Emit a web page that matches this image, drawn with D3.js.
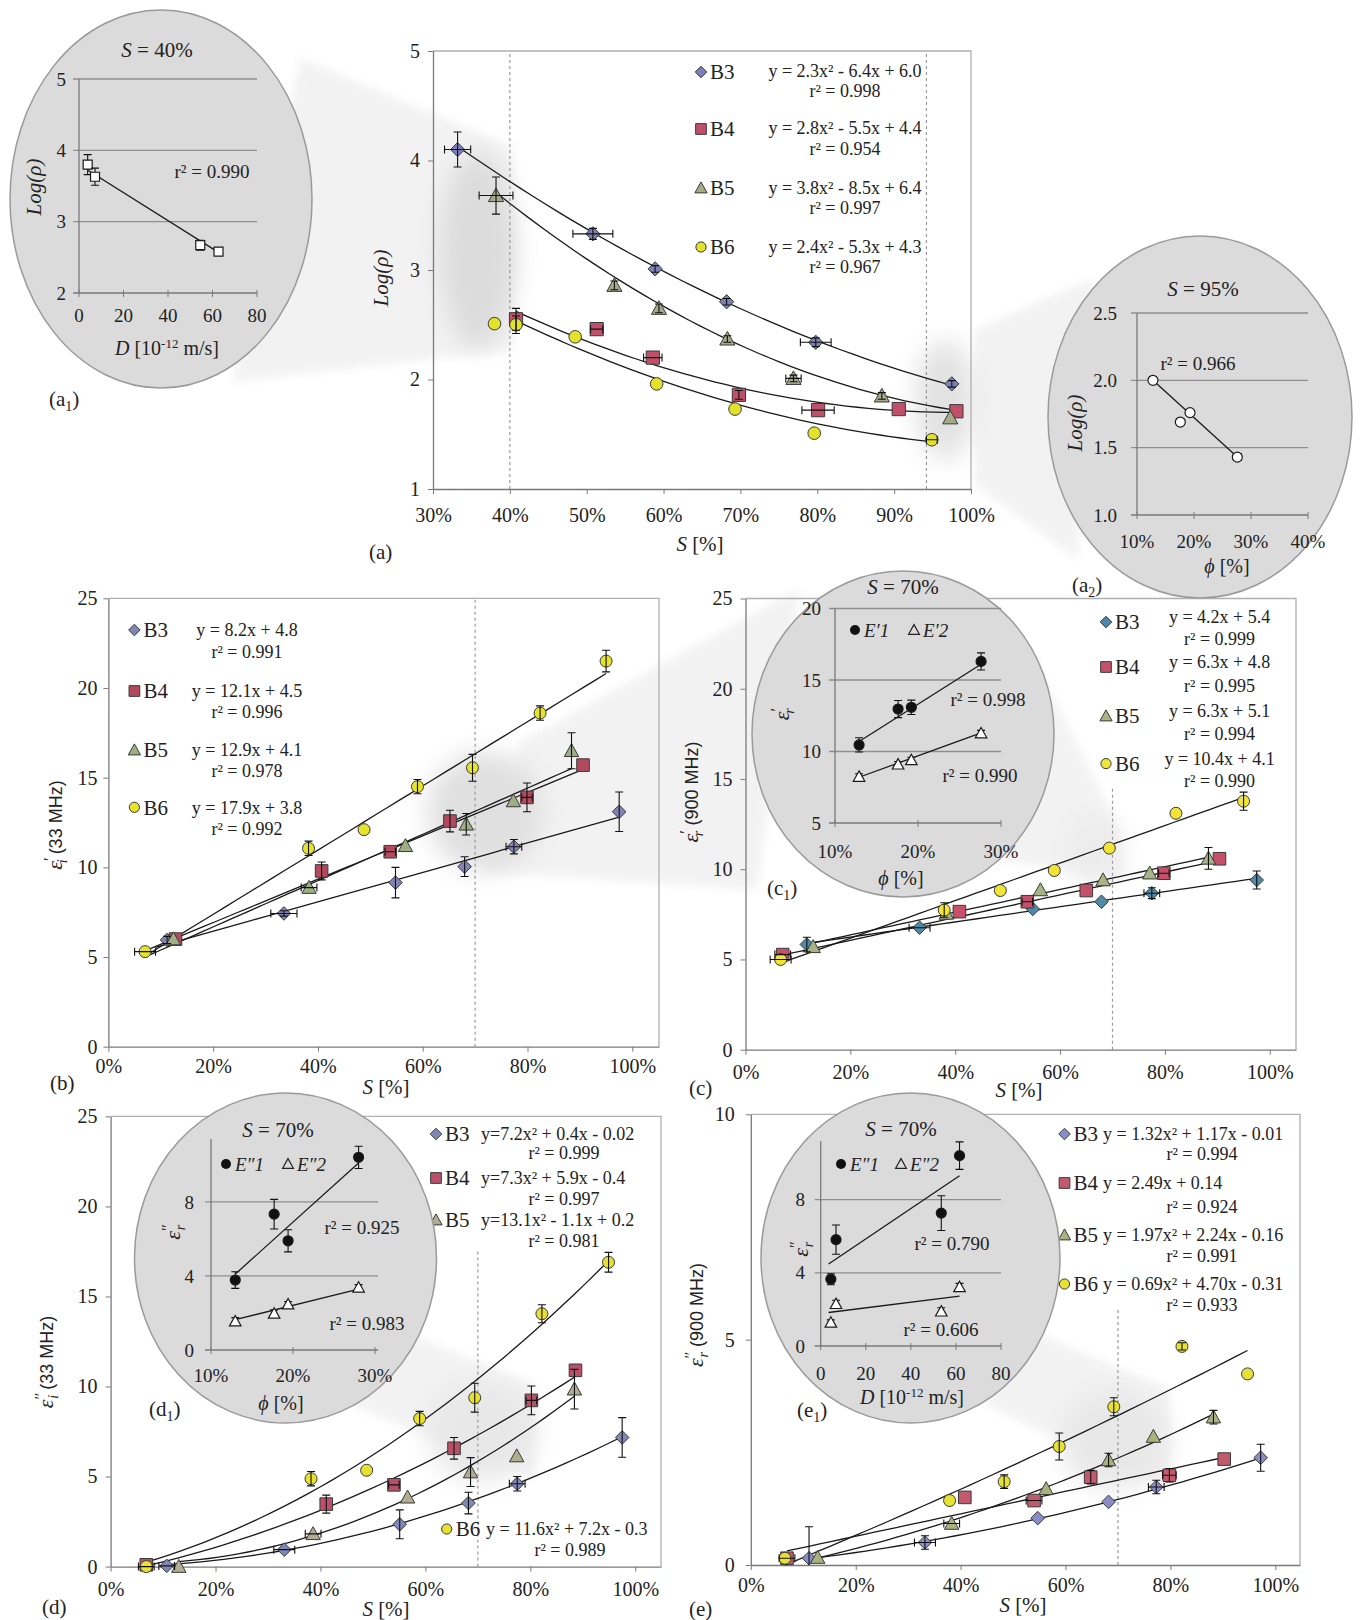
<!DOCTYPE html>
<html><head><meta charset="utf-8">
<script src="https://cdn.jsdelivr.net/npm/d3@7"></script>
<style>
body{margin:0;background:#fff;}
svg{display:block;}
</style></head><body>
<svg id="fig" width="1365" height="1620"></svg>
<script>
// ================= DATA =================
const seriesNames = ["B3","B4","B5","B6"];
// rows: [S %, value, S error, value error]
// ---- panel (a): Log(rho) vs S
const aB3 = [[33.2,4.10,1.7,0.16],[50.8,3.33,2.6,0.05],[58.9,3.01,0,0.03],[68.2,2.71,0,0.03],[79.8,2.34,2.0,0.04],[97.5,1.96,0,0.03]];
const aB4 = [[40.8,2.55,0,0.10],[51.3,2.46,0.8,0],[58.6,2.20,1.2,0],[69.8,1.86,0,0.04],[80.1,1.72,2.1,0],[90.6,1.73,0,0],[98.1,1.71,0,0]];
const aB5 = [[38.2,3.68,2.2,0.17],[53.6,2.86,0,0.04],[59.4,2.65,0,0.04],[68.3,2.37,0,0.03],[76.9,2.01,1.0,0.03],[88.4,1.85,0,0.03],[97.3,1.65,0,0]];
const aB6 = [[38.0,2.51,0,0],[40.8,2.50,0,0.08],[48.5,2.39,0,0],[59.1,1.96,0,0],[69.3,1.73,0,0],[79.6,1.51,0,0],[94.9,1.45,0.7,0]];
const aFit = [[2.3,-6.4,6.0],[2.8,-5.5,4.4],[3.8,-8.5,6.4],[2.4,-5.3,4.3]];
const aFitRange = [[33.2,97.5],[40.8,98.1],[38.2,97.3],[40.8,94.9]];
const aEq = ["y = 2.3x² - 6.4x + 6.0","y = 2.8x² - 5.5x + 4.4","y = 3.8x² - 8.5x + 6.4","y = 2.4x² - 5.3x + 4.3"];
const aR2 = ["r² = 0.998","r² = 0.954","r² = 0.997","r² = 0.967"];
const aXTicks = [30,40,50,60,70,80,90,100];
const aYTicks = [1,2,3,4,5];

// ---- panel (b): eps' (33 MHz) vs S
const bB3 = [[11.2,5.95,0,0.2],[33.5,7.43,2.5,0.15],[54.8,9.15,0,0.85],[68.0,10.04,0,0.55],[77.4,11.15,1.5,0.4],[97.5,13.1,0,1.1]];
const bB4 = [[12.8,6.0,0,0],[40.7,9.8,0,0.5],[53.8,10.87,1.0,0],[65.2,12.58,0,0.6],[79.9,13.9,1.0,0.8],[90.6,15.7,0,0]];
const bB5 = [[12.4,6.0,0,0],[38.3,8.87,1.5,0],[56.7,11.2,0,0],[68.3,12.4,0,0.6],[77.3,13.7,0,0],[88.4,16.5,0,1.0]];
const bB6 = [[7.0,5.3,2.0,0],[38.2,11.06,0,0.4],[48.8,12.1,0,0],[59.0,14.5,0,0.4],[69.5,15.55,0,0.75],[82.4,18.6,0,0.4],[95.0,21.5,0,0.6]];
const bFit = [[0,8.2,4.8],[0,12.1,4.5],[0,12.9,4.1],[0,17.9,3.8]];
const bFitRange = [[9,97.5],[8,90.6],[8,88.4],[7,95]];
const bEq = ["y = 8.2x + 4.8","y = 12.1x + 4.5","y = 12.9x + 4.1","y = 17.9x + 3.8"];
const bR2 = ["r² = 0.991","r² = 0.996","r² = 0.978","r² = 0.992"];
const pctTicks = [0,20,40,60,80,100];
const bYTicks = [0,5,10,15,20,25];

// ---- panel (c): eps' (900 MHz) vs S
const cB3 = [[11.7,5.83,0,0.4],[33.2,6.76,2.0,0],[54.8,7.8,0,0],[67.9,8.2,0,0],[77.5,8.67,1.5,0.3],[97.5,9.4,0,0.5]];
const cB4 = [[7.1,5.27,1.5,0],[40.8,7.65,0,0],[53.75,8.2,1.0,0],[65.0,8.82,0,0],[79.8,9.78,1.0,0],[90.4,10.58,0,0]];
const cB5 = [[12.9,5.7,0,0],[38.3,7.55,0,0],[56.25,8.85,0,0],[68.2,9.4,0,0],[77.1,9.78,0,0],[88.3,10.6,0,0.6]];
const cB6 = [[6.7,5.0,2.0,0],[37.9,7.74,0,0.4],[48.6,8.82,0,0],[58.9,9.93,0,0],[69.4,11.17,0,0],[82.1,13.1,0,0],[95.0,13.77,0,0.5]];
const cFit = [[0,4.2,5.4],[0,6.3,4.8],[0,6.3,5.1],[0,10.4,4.1]];
const cFitRange = [[11.7,97.5],[7.1,90.4],[12.9,88.3],[6.7,95]];
const cEq = ["y = 4.2x + 5.4","y = 6.3x + 4.8","y = 6.3x + 5.1","y = 10.4x + 4.1"];
const cR2 = ["r² = 0.999","r² = 0.995","r² = 0.994","r² = 0.990"];
const cYTicks = [0,5,10,15,20,25];

// ---- panel (d): eps'' (33 MHz) vs S
const dB3 = [[10.7,0.04,1.5,0],[33.1,0.94,2.0,0],[55.1,2.35,0,0.8],[68.2,3.53,0,0.6],[77.5,4.6,1.5,0.4],[97.5,7.17,0,1.1]];
const dB4 = [[6.8,0.1,0,0],[41.1,3.47,0,0.5],[54.0,4.54,1.0,0],[65.45,6.57,0,0.6],[80.2,9.23,1.0,0.8],[88.6,10.9,0,0]];
const dB5 = [[13.0,0.0,0,0],[38.6,1.82,1.5,0],[56.6,3.85,0,0],[68.6,5.25,0,0.8],[77.4,6.14,0,0],[88.4,9.85,0,1.1]];
const dB6 = [[6.8,0.0,1.5,0],[38.2,4.88,0,0.4],[48.8,5.35,0,0],[58.9,8.22,0,0.4],[69.4,9.38,0,0.8],[82.2,14.04,0,0.5],[94.9,16.9,0,0.55]];
const dFit = [[7.2,0.4,-0.02],[7.3,5.9,-0.4],[13.1,-1.1,0.2],[11.6,7.2,-0.3]];
const dFitRange = [[10.7,97.5],[6.8,88.6],[13.0,88.4],[6.8,94.9]];
const dEq = ["y=7.2x² + 0.4x - 0.02","y=7.3x² + 5.9x - 0.4","y=13.1x² - 1.1x + 0.2","y = 11.6x² + 7.2x - 0.3"];
const dR2 = ["r² = 0.999","r² = 0.997","r² = 0.981","r² = 0.989"];
const dYTicks = [0,5,10,15,20,25];

// ---- panel (e): eps'' (900 MHz) vs S
const eB3 = [[11.1,0.15,0,0.7],[33.2,0.5,2.0,0.15],[54.7,1.04,0,0],[68.2,1.40,0,0],[77.3,1.73,1.5,0.15],[97.2,2.38,0,0.3]];
const eB4 = [[6.9,0.15,1.5,0],[40.8,1.5,0,0],[54.0,1.43,1.5,0],[64.8,1.95,0,0.15],[79.8,1.99,1.3,0.15],[90.25,2.35,0,0]];
const eB5 = [[12.75,0.165,0,0],[38.3,0.92,1.5,0],[56.3,1.69,0,0],[68.2,2.33,0,0.15],[76.75,2.85,0,0],[88.2,3.28,0,0.15]];
const eB6 = [[6.5,0.15,0,0],[37.9,1.43,0,0],[48.3,1.85,0,0.15],[58.8,2.63,0,0.3],[69.2,3.51,0,0.2],[82.2,4.85,0,0.08],[94.7,4.24,0,0]];
const eFit = [[1.32,1.17,-0.01],[0,2.49,0.14],[1.97,2.24,-0.16],[0.69,4.70,-0.31]];
const eFitRange = [[11.1,97.2],[6.9,90.25],[12.75,88.2],[6.5,94.7]];
const eEq = ["y = 1.32x² + 1.17x - 0.01","y = 2.49x + 0.14","y = 1.97x² + 2.24x - 0.16","y = 0.69x² + 4.70x - 0.31"];
const eR2 = ["r² = 0.994","r² = 0.924","r² = 0.991","r² = 0.933"];
const eYTicks = [0,5,10];

// ---- insets: rows [x, value, value error, x error]
const a1Pts = [[3.9,3.80,0.14,0],[7.2,3.63,0.12,0],[54.5,2.67,0.07,0],[62.7,2.58,0,0]];
const a1Line = [[4,3.72],[62.7,2.57]];
const a2Pts = [[12.8,2.0,0,0],[17.6,1.69,0,0],[19.3,1.76,0,0],[27.6,1.43,0,0.7]];
const a2Line = [[12.8,2.0],[27.6,1.43]];
const c1E1 = [[12.9,10.46,0.5,0],[17.6,12.97,0.6,0],[19.2,13.09,0.5,0],[27.6,16.3,0.6,0]];
const c1E2 = [[12.9,8.24,0.2,0],[17.6,9.1,0.2,0],[19.2,9.4,0.2,0],[27.6,11.28,0.2,0]];
const c1Line1 = [[12.9,10.7],[27.6,16.1]];
const c1Line2 = [[12.9,8.2],[27.6,11.3]];
const d1E1 = [[12.96,3.78,0.45,0],[17.7,7.34,0.8,0],[19.4,5.9,0.6,0],[28.0,10.41,0.6,0]];
const d1E2 = [[12.96,1.55,0.2,0],[17.7,1.97,0.2,0],[19.4,2.47,0.15,0],[28.0,3.38,0.15,0]];
const d1Line1 = [[12.96,4.1],[28.0,10.1]];
const d1Line2 = [[12.96,1.64],[28.0,3.29]];
const e1E1 = [[4.5,3.65,0.3,0],[6.8,5.81,0.8,0],[53.5,7.26,0.95,0],[61.6,10.4,0.75,0]];
const e1E2 = [[4.5,1.28,0.15,0],[6.8,2.3,0.2,0],[53.5,1.89,0.2,0],[61.6,3.22,0.2,0]];
const e1Line1 = [[3.5,4.48],[61.6,9.3]];
const e1Line2 = [[3.5,1.83],[61.6,2.72]];

// ================= STYLE / LAYOUT =================
const SERIF = "'Liberation Serif','Times New Roman',serif";
const SANS = "'Liberation Sans',Arial,sans-serif";
const shapes = ["diamond","square","triangle","circle"];
const colA = ["#7d80b6","#c0506a","#a3ab8a","#e3e22a"];
const colB = ["#8484b4","#b24a5e","#9fae85","#e6e32c"];
const colC = ["#4f89a6","#c45069","#a8b486","#f0e436"];
const colD = ["#8088b8","#b8506a","#b0ad90","#e8e030"];
const colE = ["#8a8cc8","#c25a6e","#a9b27d","#e5e235"];

const svg = d3.select("#fig");
const defs = svg.append("defs");
[4,8,12].forEach(s => defs.append("filter").attr("id","blur"+s).attr("x","-50%").attr("y","-50%").attr("width","200%").attr("height","200%")
  .append("feGaussianBlur").attr("stdDeviation",s));

function shapePath(shape, s) {
  if (shape === "diamond") { const r = 6.8*s; return `M0,${-r}L${r},0L0,${r}L${-r},0Z`; }
  if (shape === "square") { const h = 6.3*s; return `M${-h},${-h}H${h}V${h}H${-h}Z`; }
  if (shape === "triangle") { const a = 7.2*s; return `M0,${-a}L${a},${a*0.8}L${-a},${a*0.8}Z`; }
  const r = 6*s; return `M${r},0A${r},${r},0,1,1,${-r},0A${r},${r},0,1,1,${r},0Z`;
}

// ---------- background projections (zoom bands and highlighted regions) ----------
const bg = svg.append("g");
const bands = [
  [[300,58],[513,147],[513,350],[232,382]],
  [[975,330],[1093,278],[1078,560],[975,485]],
  [[520,742],[800,588],[757,890],[485,872]],
  [[1030,650],[1115,820],[1125,880],[1000,860]],
  [[400,1330],[535,1385],[535,1480],[350,1405]],
  [[1030,1330],[1170,1390],[1170,1490],[985,1405]]
];
bands.forEach(b => bg.append("path").attr("d","M"+b.join("L")+"Z").attr("fill","#f0f0f0").attr("opacity",0.8).attr("filter","url(#blur4)"));
const blobs = [[478,250,38,98,"#dcdcdc"],[945,400,30,60,"#e2e2e2"],[485,812,58,60,"#e0e0e0"],[1095,850,30,35,"#ececec"],[482,1432,55,50,"#e8e8e8"],[1115,1440,55,50,"#e8e8e8"]];
blobs.forEach(b => bg.append("ellipse").attr("cx",b[0]).attr("cy",b[1]).attr("rx",b[2]).attr("ry",b[3]).attr("fill",b[4]).attr("filter","url(#blur12)"));

// ---------- main panel ----------
function mainPanel(p) {
  const g = svg.append("g");
  const x = d3.scaleLinear().domain(p.xDom).range(p.xRange);
  const y = d3.scaleLinear().domain(p.yDom).range(p.yRange);
  const [xl, xr] = p.xRange, [yb, yt] = p.yRange;
  g.append("path").attr("d",`M${xl},${yt}H${xr}V${yb}`).attr("fill","none").attr("stroke","#b0b0b0").attr("stroke-width",1.3);
  p.vlines.forEach(v => g.append("line").attr("x1",x(v[0])).attr("x2",x(v[0])).attr("y1",y(v[1])).attr("y2",y(v[2]))
    .attr("stroke","#9a9a9a").attr("stroke-width",1.2).attr("stroke-dasharray","3,3"));
  const xa = g.append("g").attr("transform",`translate(0,${yb})`)
    .call(d3.axisBottom(x).tickValues(p.xTicks).tickSize(5).tickSizeOuter(0).tickPadding(p.xPad).tickFormat(d => d + "%"));
  const ya = g.append("g").attr("transform",`translate(${xl},0)`)
    .call(d3.axisLeft(y).tickValues(p.yTicks).tickSize(5).tickSizeOuter(0).tickPadding(p.yPad).tickFormat(d => String(d)));
  [xa, ya].forEach(a => {
    a.select(".domain").attr("stroke","#7a7a7a").attr("stroke-width",1.3);
    a.selectAll(".tick line").attr("stroke","#7a7a7a");
    a.selectAll("text").attr("font-family",SERIF).attr("font-size",20).attr("fill","#222");
  });
  const line = d3.line().x(d => x(d[0])).y(d => y(d[1]));
  // fitted trendlines from the printed equations
  p.series.forEach((s, i) => {
    const [qa, qb, qc] = p.fits[i];
    const [s0, s1] = p.ranges[i];
    const pts = d3.range(0, 41).map(k => {
      const sv = s0 + (s1 - s0) * k / 40, f = sv / 100;
      return [sv, qa*f*f + qb*f + qc];
    });
    g.append("path").attr("d", line(pts)).attr("fill","none").attr("stroke","#1a1a1a").attr("stroke-width",1.3);
  });
  // markers
  p.series.forEach((s, i) => {
    s.forEach(d => {
      g.append("path").attr("d", shapePath(shapes[i], p.ms)).attr("transform",`translate(${x(d[0])},${y(d[1])})`)
        .attr("fill", p.colors[i]).attr("stroke","#3a3a3a").attr("stroke-width",1);
    });
  });
  // error bars
  p.series.forEach(s => {
    s.forEach(d => {
      const cx = x(d[0]), cy = y(d[1]);
      if (d[2] > 0) {
        const x0 = x(d[0]-d[2]), x1 = x(d[0]+d[2]);
        g.append("path").attr("d",`M${x0},${cy}H${x1}M${x0},${cy-4}V${cy+4}M${x1},${cy-4}V${cy+4}`).attr("stroke","#111").attr("stroke-width",1.1).attr("fill","none");
      }
      if (d[3] > 0) {
        const y0 = y(Math.max(p.yDom[0], d[1]-d[3])), y1 = y(d[1]+d[3]);
        g.append("path").attr("d",`M${cx},${y0}V${y1}M${cx-4},${y1}H${cx+4}` + (d[1]-d[3] >= p.yDom[0] ? `M${cx-4},${y0}H${cx+4}` : "")).attr("stroke","#111").attr("stroke-width",1.1).attr("fill","none");
      }
    });
  });
  // legend
  const L = p.legend;
  seriesNames.forEach((nm, i) => {
    const mx = Array.isArray(L.mx) ? L.mx[i] : L.mx;
    g.append("path").attr("d", shapePath(shapes[i], 0.85)).attr("transform",`translate(${mx},${L.rows[i]})`)
      .attr("fill", p.colors[i]).attr("stroke","#3a3a3a").attr("stroke-width",1);
    g.append("text").attr("x", mx + 9).attr("y", L.rows[i]).attr("dy","0.35em").attr("font-family",SERIF).attr("font-size",21).attr("fill","#222").text(nm);
    const ex = Array.isArray(L.eqX) ? L.eqX[i] : L.eqX;
    g.append("text").attr("x", ex).attr("y", L.eqRows[i]).attr("dy","0.35em").attr("text-anchor",L.eqAnchor).attr("font-family",SERIF).attr("font-size",18).attr("fill","#222").text(p.eq[i]);
    const rx = Array.isArray(L.r2X) ? L.r2X[i] : L.r2X;
    g.append("text").attr("x", rx).attr("y", L.r2Rows[i]).attr("dy","0.35em").attr("text-anchor","middle").attr("font-family",SERIF).attr("font-size",18).attr("fill","#222").text(p.r2[i]);
  });
  // x title
  const xt = g.append("text").attr("x",p.xTitle[0]).attr("y",p.xTitle[1]).attr("text-anchor","middle").attr("font-family",SERIF).attr("font-size",21).attr("fill","#222");
  xt.append("tspan").attr("font-style","italic").text("S");
  xt.append("tspan").text(" [%]");
  // panel label
  g.append("text").attr("x",p.tag[0]).attr("y",p.tag[1]).attr("font-family",SERIF).attr("font-size",21).attr("fill","#222").text(p.tag[2]);
  return g;
}

function epsTitle(cx, cy, primes, sub, freq, size) {
  const t = svg.append("text").attr("transform",`translate(${cx},${cy}) rotate(-90)`).attr("text-anchor","middle")
    .attr("font-family",SERIF).attr("font-size",size).attr("fill","#222").attr("dy","0.35em");
  t.append("tspan").attr("font-style","italic").text("ε");
  t.append("tspan").attr("font-size",size*0.75).attr("dy",-7).text(primes);
  t.append("tspan").attr("font-size",size*0.65).attr("font-style","italic").attr("dx",-4*primes.length - 2).attr("dy",12).text(sub);
  if (freq) t.append("tspan").attr("font-family",SANS).attr("font-size",18).attr("dy",-5).text(" (" + freq + ")");
  return t;
}

// ---------- inset ----------
function inset(p) {
  const g = svg.append("g");
  g.append("ellipse").attr("cx",p.ell[0]).attr("cy",p.ell[1]).attr("rx",p.ell[2]).attr("ry",p.ell[3])
    .attr("fill","#dbdbdb").attr("stroke","#9a9a9a").attr("stroke-width",1.5);
  const x = d3.scaleLinear().domain(p.xDom).range(p.xRange);
  const y = d3.scaleLinear().domain(p.yDom).range(p.yRange);
  const xl = p.xRange[0], yb = p.yRange[0];
  p.grid.forEach(v => g.append("line").attr("x1",xl-6).attr("x2",p.gridRight).attr("y1",y(v)).attr("y2",y(v)).attr("stroke","#8e8e8e").attr("stroke-width",1.3));
  g.append("line").attr("x1",xl).attr("x2",xl).attr("y1",yb).attr("y2",p.axisTop).attr("stroke","#7a7a7a").attr("stroke-width",1.3);
  g.append("line").attr("x1",xl-6).attr("x2",p.gridRight).attr("y1",yb).attr("y2",yb).attr("stroke","#7a7a7a").attr("stroke-width",1.3);
  p.xTicks.forEach(v => g.append("line").attr("x1",x(v)).attr("x2",x(v)).attr("y1",yb-3).attr("y2",yb+4).attr("stroke","#7a7a7a"));
  p.yTicks.forEach(v => g.append("text").attr("x",p.yLabRight).attr("y",y(v)).attr("dy","0.35em").attr("text-anchor","end")
    .attr("font-family",SERIF).attr("font-size",19).attr("fill","#222").text(p.yFmt(v)));
  p.xTicks.forEach(v => g.append("text").attr("x",x(v)).attr("y",p.xLabY).attr("text-anchor","middle")
    .attr("font-family",SERIF).attr("font-size",19).attr("fill","#222").text(p.xFmt(v)));
  const line = d3.line().x(d => x(d[0])).y(d => y(d[1]));
  p.lines.forEach(l => g.append("path").attr("d",line(l)).attr("fill","none").attr("stroke","#1a1a1a").attr("stroke-width",1.3));
  p.sets.forEach(set => {
    set.pts.forEach(d => {
      const cx = x(d[0]), cy = y(d[1]);
      if (d[2] > 0) {
        const y0 = y(d[1]-d[2]), y1 = y(d[1]+d[2]);
        g.append("path").attr("d",`M${cx},${y0}V${y1}M${cx-4},${y0}H${cx+4}M${cx-4},${y1}H${cx+4}`).attr("stroke","#111").attr("stroke-width",1.1);
      }
      if (d[3] > 0) {
        const x0 = x(d[0]-d[3]), x1 = x(d[0]+d[3]);
        g.append("path").attr("d",`M${x0},${cy}H${x1}M${x0},${cy-4}V${cy+4}M${x1},${cy-4}V${cy+4}`).attr("stroke","#111").attr("stroke-width",1.1);
      }
      g.append("path").attr("d",set.path).attr("transform",`translate(${cx},${cy})`).attr("fill",set.fill).attr("stroke","#1a1a1a").attr("stroke-width",1.2);
    });
  });
  // title S = xx%
  const tt = g.append("text").attr("x",p.title[0]).attr("y",p.title[1]).attr("text-anchor","middle").attr("font-family",SERIF).attr("font-size",21).attr("fill","#222");
  tt.append("tspan").attr("font-style","italic").text("S");
  tt.append("tspan").text(" = " + p.title[2]);
  p.r2.forEach(r => g.append("text").attr("x",r[0]).attr("y",r[1]).attr("text-anchor","middle").attr("font-family",SERIF).attr("font-size",19).attr("fill","#222").text(r[2]));
  // tag like (a1)
  const tg = g.append("text").attr("x",p.tag[0]).attr("y",p.tag[1]).attr("font-family",SERIF).attr("font-size",21).attr("fill","#222");
  tg.append("tspan").text("(" + p.tag[2]);
  tg.append("tspan").attr("font-size",14).attr("dy",5).text(p.tag[3]);
  tg.append("tspan").attr("dy",-5).text(")");
  return g;
}
function xTitleD(cx, by) {
  const t = svg.append("text").attr("x",cx).attr("y",by).attr("text-anchor","middle").attr("font-family",SERIF).attr("font-size",20).attr("fill","#222");
  t.append("tspan").attr("font-style","italic").text("D");
  t.append("tspan").text(" [10");
  t.append("tspan").attr("font-size",13).attr("dy",-7).text("-12");
  t.append("tspan").attr("dy",7).text(" m/s]");
}
function xTitlePhi(cx, by) {
  const t = svg.append("text").attr("x",cx).attr("y",by).attr("text-anchor","middle").attr("font-family",SERIF).attr("font-size",20).attr("fill","#222");
  t.append("tspan").attr("font-style","italic").text("ϕ");
  t.append("tspan").text(" [%]");
}
function logTitle(cx, cy) {
  svg.append("text").attr("transform",`translate(${cx},${cy}) rotate(-90)`).attr("text-anchor","middle").attr("dy","0.35em")
    .attr("font-family",SERIF).attr("font-size",21).attr("font-style","italic").attr("fill","#222").text("Log(ρ)");
}
function insetLegend(cy, l1, l2, x1, x2) {
  svg.append("circle").attr("cx",x1).attr("cy",cy).attr("r",5).attr("fill","#111");
  svg.append("text").attr("x",x1+9).attr("y",cy).attr("dy","0.35em").attr("font-family",SERIF).attr("font-style","italic").attr("font-size",19).attr("fill","#222").text(l1);
  svg.append("path").attr("d",shapePath("triangle",0.75)).attr("transform",`translate(${x2},${cy})`).attr("fill","none").attr("stroke","#222").attr("stroke-width",1.2);
  svg.append("text").attr("x",x2+9).attr("y",cy).attr("dy","0.35em").attr("font-family",SERIF).attr("font-style","italic").attr("font-size",19).attr("fill","#222").text(l2);
}

const pct = v => v + "%";
const openSquare = "M-4.5,-4.5H4.5V4.5H-4.5Z";
const openCircle = "M5,0A5,5,0,1,1,-5,0A5,5,0,1,1,5,0Z";
const filledCircle = "M5,0A5,5,0,1,1,-5,0A5,5,0,1,1,5,0Z";
const openTri = shapePath("triangle",0.8);

// ================= PANELS =================
mainPanel({
  xDom:[30,100], xRange:[433,971], yDom:[1,5], yRange:[489,51], xTicks:aXTicks, yTicks:aYTicks, xPad:14, yPad:8,
  vlines:[[40,1,5],[94.2,1,5]], series:[aB3,aB4,aB5,aB6], fits:aFit, ranges:aFitRange, colors:colA, ms:1.05,
  eq:aEq, r2:aR2,
  legend:{mx:701, rows:[72,129,188,247], eqX:845, eqAnchor:"middle", eqRows:[70.6,128,187.2,246.3], r2X:845, r2Rows:[91,148.5,207.5,266.5]},
  xTitle:[700,551], tag:[369,559,"(a)"]
});
logTitle(381, 278);

mainPanel({
  xDom:[0,105.1], xRange:[108.4,659], yDom:[0,25], yRange:[1046.7,598.3], xTicks:pctTicks, yTicks:bYTicks, xPad:7, yPad:6,
  vlines:[[70,0,25]], series:[bB3,bB4,bB5,bB6], fits:bFit, ranges:bFitRange, colors:colB, ms:1,
  eq:bEq, r2:bR2,
  legend:{mx:134.4, rows:[630,691,750,807.3], eqX:247, eqAnchor:"middle", eqRows:[630,691,750,807.3], r2X:247, r2Rows:[651.7,711.7,770.7,828.3]},
  xTitle:[386,1094], tag:[50,1090,"(b)"]
});
epsTitle(54, 825, "′", "i", "33 MHz", 22);

mainPanel({
  xDom:[0,105], xRange:[745.5,1296], yDom:[0,25], yRange:[1049.7,598.5], xTicks:pctTicks, yTicks:cYTicks, xPad:10, yPad:8,
  vlines:[[70,0,14.5]], series:[cB3,cB4,cB5,cB6], fits:cFit, ranges:cFitRange, colors:colC, ms:1,
  eq:cEq, r2:cR2,
  legend:{mx:1106, rows:[622,667,716,763.6], eqX:1219.6, eqAnchor:"middle", eqRows:[617,662,710.7,759], r2X:1219.6, r2Rows:[638.7,685.6,734,781]},
  xTitle:[1019,1097], tag:[689,1095,"(c)"]
});
epsTitle(690, 792, "′", "r", "900 MHz", 22);

mainPanel({
  xDom:[0,104.9], xRange:[110.6,661], yDom:[0,25], yRange:[1566.6,1116.4], xTicks:pctTicks, yTicks:dYTicks, xPad:10, yPad:8,
  vlines:[[70,0,17.5]], series:[dB3,dB4,dB5,dB6], fits:dFit, ranges:dFitRange, colors:colD, ms:1,
  eq:dEq, r2:dR2,
  legend:{mx:[436,436,436,446.7], rows:[1134,1178,1220,1529], eqX:[481,481,481,486], eqAnchor:"start", eqRows:[1134,1178,1220,1529], r2X:[564,564,564,570], r2Rows:[1152.5,1199,1240.4,1549.7]},
  xTitle:[386,1616], tag:[42,1614,"(d)"]
});
epsTitle(45, 1362, "″", "i", "33 MHz", 22);

mainPanel({
  xDom:[0,104.7], xRange:[750.8,1300], yDom:[0,10], yRange:[1565,1114.3], xTicks:pctTicks, yTicks:eYTicks, xPad:8, yPad:11,
  vlines:[[70,0,5.7]], series:[eB3,eB4,eB5,eB6], fits:eFit, ranges:eFitRange, colors:colE, ms:1,
  eq:eEq, r2:eR2,
  legend:{mx:1064.5, rows:[1134,1183,1235,1284], eqX:1103, eqAnchor:"start", eqRows:[1134,1183,1235,1284], r2X:1202, r2Rows:[1154,1206.6,1255.6,1304.6]},
  xTitle:[1023,1612], tag:[689,1616,"(e)"]
});
epsTitle(695, 1315, "″", "r", "900 MHz", 22);

// ================= INSETS =================
inset({
  ell:[161,199,151,189], xDom:[0,80], xRange:[79,257], yDom:[2,5], yRange:[293,79], grid:[3,4,5], gridRight:257, axisTop:79,
  xTicks:[0,20,40,60,80], yTicks:[2,3,4,5], yFmt:v=>v, xFmt:v=>v, yLabRight:66, xLabY:322,
  lines:[a1Line], sets:[{pts:a1Pts, path:openSquare, fill:"#fff"}],
  title:[157,57,"40%"], r2:[[212,178,"r² = 0.990"]], tag:[49,406,"a","1"]
});
logTitle(34, 187);
xTitleD(167, 355);

inset({
  ell:[1200,417,152,181], xDom:[10,40], xRange:[1137,1308], yDom:[1,2.5], yRange:[515,313], grid:[1.5,2.0,2.5], gridRight:1308, axisTop:313,
  xTicks:[10,20,30,40], yTicks:[1.0,1.5,2.0,2.5], yFmt:v=>v.toFixed(1), xFmt:pct, yLabRight:1117, xLabY:548,
  lines:[a2Line], sets:[{pts:a2Pts, path:openCircle, fill:"#fff"}],
  title:[1203,296,"95%"], r2:[[1198,370,"r² = 0.966"]], tag:[1072,592,"a","2"]
});
logTitle(1075, 423);
xTitlePhi(1227, 573);

inset({
  ell:[903,734,151,163], xDom:[10,30], xRange:[835,1001], yDom:[5,20], yRange:[823,608.5], grid:[10,15,20], gridRight:1001, axisTop:608.5,
  xTicks:[10,20,30], yTicks:[5,10,15,20], yFmt:v=>v, xFmt:pct, yLabRight:821, xLabY:858,
  lines:[c1Line1, c1Line2], sets:[{pts:c1E1, path:filledCircle, fill:"#111"},{pts:c1E2, path:openTri, fill:"#fff"}],
  title:[903,594,"70%"], r2:[[988,706,"r² = 0.998"],[980,782,"r² = 0.990"]], tag:[767,895,"c","1"]
});
insetLegend(630, "E′1", "E′2", 855, 914);
epsTitle(781, 714, "′", "r", null, 22);
xTitlePhi(901, 885);

inset({
  ell:[285.5,1258,151,165], xDom:[10,30], xRange:[211,375], yDom:[0,11.4], yRange:[1350,1139], grid:[4,8], gridRight:378, axisTop:1139,
  xTicks:[10,20,30], yTicks:[0,4,8], yFmt:v=>v, xFmt:pct, yLabRight:194, xLabY:1382,
  lines:[d1Line1, d1Line2], sets:[{pts:d1E1, path:filledCircle, fill:"#111"},{pts:d1E2, path:openTri, fill:"#fff"}],
  title:[278,1137,"70%"], r2:[[362,1234,"r² = 0.925"],[367,1330,"r² = 0.983"]], tag:[149,1416,"d","1"]
});
insetLegend(1164, "E″1", "E″2", 226, 288);
epsTitle(172, 1232, "″", "r", null, 22);
xTitlePhi(281, 1410);

inset({
  ell:[910.5,1258,149.5,165], xDom:[0,80], xRange:[820.7,1001], yDom:[0,11.2], yRange:[1346,1141], grid:[4,8], gridRight:1001, axisTop:1141,
  xTicks:[0,20,40,60,80], yTicks:[0,4,8], yFmt:v=>v, xFmt:v=>v, yLabRight:805, xLabY:1380,
  lines:[e1Line1, e1Line2], sets:[{pts:e1E1, path:filledCircle, fill:"#111"},{pts:e1E2, path:openTri, fill:"#fff"}],
  title:[901,1136,"70%"], r2:[[952,1250,"r² = 0.790"],[941,1336,"r² = 0.606"]], tag:[797,1417,"e","1"]
});
insetLegend(1164, "E″1", "E″2", 841, 901);
epsTitle(800, 1249, "″", "r", null, 22);
xTitleD(912, 1404);
</script>
</body></html>
